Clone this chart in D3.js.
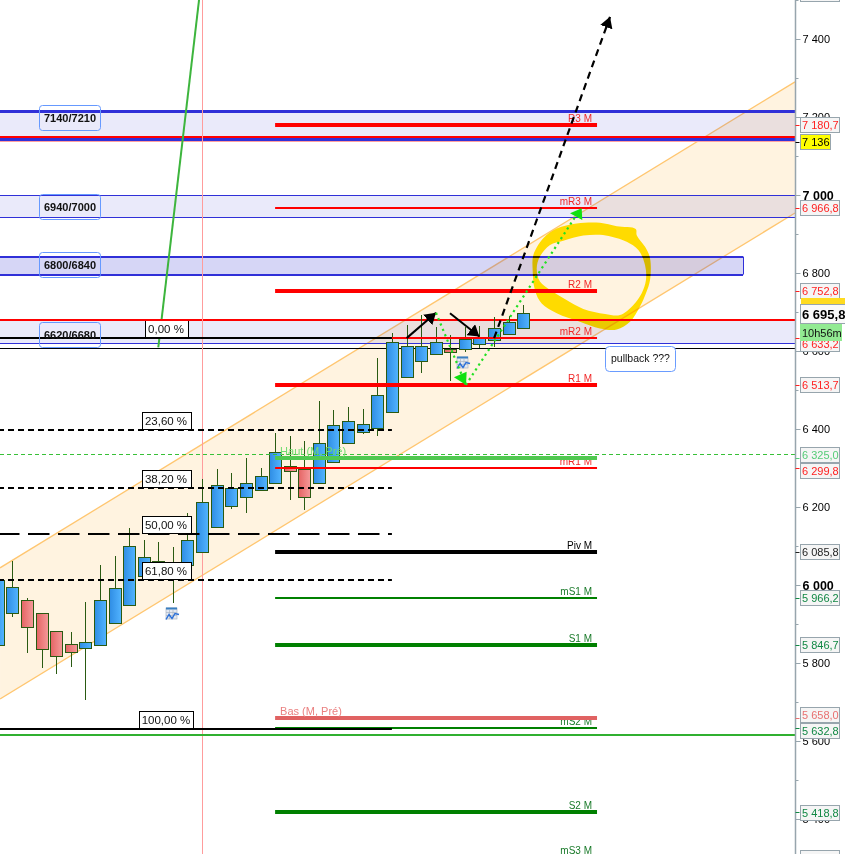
<!DOCTYPE html>
<html>
<head>
<meta charset="utf-8">
<script src="https://cdn.jsdelivr.net/npm/d3@7/dist/d3.min.js"></script>
<style>
  html, body { margin: 0; padding: 0; background: #fff; overflow: hidden; }
  svg { display: block; font-family: "Liberation Sans", Arial, sans-serif; }
</style>
</head>
<body>
<script>
// candles, first one is cut by the left edge
var firstBar = -1;
var opens  = [5846,5927,5961,5927,5881,5848,5838,5845,5902,5948,6022,6026,6026,6051,6084,6148,6202,6225,6243,6261,6305,6297,6263,6315,6363,6392,6402,6443,6533,6574,6592,6606,6604,6617,6627,6643,6658];
var closes = [6013,5994,5892,5835,5817,5827,5853,5961,5992,6099,6071,6061,6038,6115,6212,6256,6248,6261,6279,6340,6293,6226,6365,6409,6420,6412,6486,6622,6612,6612,6622,6599,6630,6635,6658,6674,6697];
var highs  = [6013,6062,5967,5927,5881,5879,5956,6051,6074,6145,6115,6109,6097,6184,6272,6297,6286,6325,6299,6389,6382,6369,6472,6449,6456,6451,6581,6645,6667,6692,6661,6640,6661,6663,6686,6689,6718];
var lows   = [5846,5919,5826,5788,5773,5791,5706,5845,5902,5948,6022,6026,5955,6051,6084,6148,6195,6185,6243,6261,6218,6192,6263,6315,6363,6388,6383,6443,6533,6543,6592,6524,6597,6607,6609,6643,6658];

// channel
var channelBars = [-0.84, 53.61];
var channelUpper = [6044, 7290];
var channelLower = [5708, 6954];

// zones
var zoneLabels = ['7140/7210', '6940/7000', '6800/6840', '6620/6680'];
var zoneTops = [7214, 6999, 6842, 6679.5];
var zoneBottoms = [7143, 6943, 6796, 6620];
var zoneEnds = [53.61, 53.61, 50.05, 53.61];
var zoneLineWidths = [3, 1, 2, 1];
var zoneOpacity = [0.1, 0.1, 0.2, 0.1];
var zoneLabelPrices = [7197, 6970.5, 6821, 6641.5];

// monthly pivots
var pivotNames = ['R3 M', 'mR3 M', 'R2 M', 'mR2 M', 'R1 M', 'mR1 M', 'Piv M', 'mS1 M', 'S1 M', 'mS2 M', 'S2 M', 'mS3 M'];
var pivotValues = [7180.7, 6966.8, 6752.8, 6633.2, 6513.7, 6299.8, 6085.8, 5966.2, 5846.7, 5632.8, 5418.8, 5303];
var pivotColors = ['#ff0000', '#ff0000', '#ff0000', '#ff0000', '#ff0000', '#ff0000', '#000000', '#008000', '#008000', '#008000', '#008000', '#008000'];
var pivotWidths = [4, 2, 4, 2, 4, 2, 4, 2, 4, 2, 4, 2];

// fibonacci
var fibLabels = ['0,00 %', '23,60 %', '38,20 %', '50,00 %', '61,80 %', '100,00 %'];
var fibValues = [6633, 6397, 6249, 6131, 6013, 5631];
var fibDash = [null, '6,4', '6,4', '21.5,8.5', '6,4', null];

// axis
var axisMajor = [7400, 7200, 7000, 6800, 6600, 6400, 6200, 6000, 5800, 5600, 5400];
var axisMinor = [7500, 7300, 7100, 6900, 6700, 6500, 6300, 6100, 5900, 5700, 5500, 5300];
var axisBold = [7000, 6000];

// price boxes on the axis
var boxValues = [7515, 7180.7, 7136, 6966.8, 6752.8, 6633.2, 6513.7, 6325, 6299.8, 6085.8, 5966.2, 5846.7, 5658, 5632.8, 5418.8, 5300];
var boxColors = ['#ff2020', '#ff2020', '#000000', '#ff2020', '#ff2020', '#ff2020', '#ff2020', '#55cc77', '#ff2020', '#222222', '#118844', '#118844', '#e87070', '#118844', '#118844', '#118844'];
var boxNudge = [0, 0, 0, 0, 0, 6, 0, -3, 3, 0, 0, 0, -3, 3, 1, 0];
var currentPrice = 6695.8;
var countdown = '10h56m';

// drawn by hand on the chart
var haut = 6325, bas = 5658, hautDashed = 6335, lowGreen = 5616, pinkLevel = 7136;
var redTop = 6679.5, redMid = 7148, blackThin = 6607;
var steepBars = [10, 12.79], steepPrices = [6609, 7500];
var nowBar = 13;
var blackArrows = [[[27.01, 6633], [29.02, 6698]], [[29.98, 6697], [31.99, 6637]]];
var bigArrow = [[33, 6633], [40.94, 7457]];
var dotted = [[[29.02, 6698], [31.07, 6513]], [[31.07, 6513], [38.54, 6943]]];
var greenHeads = [
  [[30.25, 6533], [31.12, 6547], [31.08, 6513]],
  [[38.2, 6953], [39, 6966], [39.04, 6936]]
];
var ringOuter = [[42.70, 6913], [42.77, 6897], [43.34, 6867], [43.68, 6838], [43.68, 6782], [43.40, 6748], [42.99, 6714], [42.31, 6675], [41.40, 6655], [40.25, 6658], [38.88, 6675], [37.29, 6697], [36.26, 6722], [35.80, 6756], [35.64, 6808], [35.69, 6846], [36.37, 6889], [37.29, 6914], [38.66, 6927], [40.25, 6929], [41.40, 6920]];
var ringInner = [[41.05, 6893], [42.08, 6880], [42.88, 6859], [43.34, 6820], [43.40, 6782], [43.11, 6748], [42.54, 6718], [41.62, 6692], [40.60, 6695], [39.11, 6708], [37.9, 6732], [36.9, 6755], [36.14, 6778], [35.92, 6812], [36.14, 6842], [36.83, 6872], [37.74, 6883], [39.11, 6896], [40.25, 6898]];
var newsIcons = [[10.94, 5926], [30.9, 6569]];
var noteText = 'pullback ???';
var noteAt = [40.63, 6582];

var width = 845, height = 854, axisX = 795.5;

var x = d3.scaleLinear().domain([0, 35]).range([12.3, 523.3]);
var y = d3.scaleLinear().domain([6000, 7400]).range([585, 39]);

var crisp = function(v) { return Math.round(v) + 0.5; };
// odd widths sit on half pixels, even widths on whole ones
var snap = function(v, w) { return w % 2 ? Math.floor(v) + 0.5 : Math.round(v); };
var fmt = function(v) { return String(v).replace(/(\d)(\d{3})/, '$1 $2'); };
var fmt1 = function(v) { return fmt(v.toFixed(1)).replace('.', ','); };

var svg = d3.select('body').append('svg').attr('width', width).attr('height', height);

var hline = function(v, x1, x2, color, w) {
  return svg.append('line').attr('x1', x1).attr('x2', x2)
    .attr('y1', snap(y(v), w)).attr('y2', snap(y(v), w))
    .attr('stroke', color).attr('stroke-width', w);
};

var defs = svg.append('defs');
var gradient = function(id, a, b) {
  var g = defs.append('linearGradient').attr('id', id);
  g.append('stop').attr('offset', '0%').attr('stop-color', a);
  g.append('stop').attr('offset', '100%').attr('stop-color', b);
};
gradient('up', '#2f8de4', '#52b4ff');
gradient('down', '#e56464', '#f59a9a');

var marker = function(id, len, wide) {
  defs.append('marker').attr('id', id).attr('markerUnits', 'userSpaceOnUse')
    .attr('markerWidth', len).attr('markerHeight', wide)
    .attr('refX', len).attr('refY', wide / 2).attr('orient', 'auto')
    .append('path').attr('d', 'M0,0L' + len + ',' + wide / 2 + 'L0,' + wide + 'Z').attr('fill', '#000');
};
marker('headBig', 11, 13);
marker('headSmall', 11, 14);

// channel
var channel = d3.area()
  .x(function(d) { return x(d[0]); })
  .y0(function(d) { return y(d[1]); })
  .y1(function(d) { return y(d[2]); });
var channelRows = channelBars.map(function(b, i) { return [b, channelUpper[i], channelLower[i]]; });
svg.append('path').attr('d', channel(channelRows)).attr('fill', '#fff3e0');
[channelUpper, channelLower].forEach(function(s) {
  svg.append('line')
    .attr('x1', x(channelBars[0])).attr('y1', y(s[0]))
    .attr('x2', x(channelBars[1])).attr('y2', y(s[1]))
    .attr('stroke', '#ffc670').attr('stroke-width', 1.3);
});

// zones
zoneLabels.forEach(function(label, i) {
  var xEnd = x(zoneEnds[i]);
  svg.append('rect')
    .attr('x', 0).attr('width', xEnd)
    .attr('y', y(zoneTops[i])).attr('height', y(zoneBottoms[i]) - y(zoneTops[i]))
    .attr('fill', '#3232d0').attr('fill-opacity', zoneOpacity[i]);
  [zoneTops[i], zoneBottoms[i]].forEach(function(v, k) {
    if (i === 3 && k === 0) return;
    hline(v, 0, xEnd, '#3030d8', zoneLineWidths[i]);
  });
  if (i === 2) {
    svg.append('line').attr('x1', crisp(xEnd)).attr('x2', crisp(xEnd))
      .attr('y1', y(zoneTops[i])).attr('y2', y(zoneBottoms[i]))
      .attr('stroke', '#3030d8').attr('stroke-width', 1);
  }
});

hline(pinkLevel, 0, axisX, '#ffa0a0', 1);
hline(redMid, 0, axisX, '#ff0000', 2);
hline(redTop, 0, axisX, '#ff0000', 2);
hline(blackThin, 0, axisX, '#000', 1);

// yellow ring
var ringLine = d3.line().x(function(d) { return x(d[0]); }).y(function(d) { return y(d[1]); }).curve(d3.curveCatmullRomClosed);
svg.append('path')
  .attr('d', ringLine(ringOuter) + ringLine(ringInner))
  .attr('fill', '#ffe600').attr('fill-rule', 'evenodd')
  .style('mix-blend-mode', 'multiply');

// now line
svg.append('line').attr('x1', crisp(x(nowBar))).attr('x2', crisp(x(nowBar))).attr('y1', 0).attr('y2', height)
  .attr('stroke', '#ff9c9c').attr('stroke-width', 1);

// candles
var bars = d3.range(opens.length);
var candle = svg.append('g').selectAll('g').data(bars).enter().append('g');
candle.append('line')
  .attr('x1', function(i) { return crisp(x(i + firstBar)); })
  .attr('x2', function(i) { return crisp(x(i + firstBar)); })
  .attr('y1', function(i) { return Math.round(y(highs[i])); })
  .attr('y2', function(i) { return Math.round(y(lows[i])); })
  .attr('stroke', '#2a5a12').attr('stroke-width', 1);
candle.append('rect')
  .attr('x', function(i) { return crisp(x(i + firstBar)) - 6; })
  .attr('width', 12)
  .attr('y', function(i) { return crisp(y(Math.max(opens[i], closes[i]))); })
  .attr('height', function(i) { return Math.max(2, Math.round(Math.abs(y(opens[i]) - y(closes[i])))); })
  .attr('fill', function(i) { return closes[i] >= opens[i] ? 'url(#up)' : 'url(#down)'; })
  .attr('stroke', '#2a5a12').attr('stroke-width', 1);

// calendar icons
newsIcons.forEach(function(n) {
  var g = svg.append('g').attr('transform', 'translate(' + Math.round(x(n[0])) + ',' + Math.round(y(n[1])) + ')');
  g.append('rect').attr('x', -6).attr('y', -6).attr('width', 11).attr('height', 11).attr('fill', '#e4e9f1').attr('stroke', '#aab6c4').attr('stroke-width', 0.7);
  g.append('path').attr('d', 'M-6,-1.5H5M-6,1.5H5M-2.5,-4V5M1,-4V5').attr('stroke', '#aab6c4').attr('stroke-width', 0.7);
  g.append('rect').attr('x', -6).attr('y', -6.5).attr('width', 11).attr('height', 2).attr('fill', '#3a7fc0');
  g.append('path').attr('d', 'M-6,5.5L-3,0.5L0,4.5L3,-0.5L7,0.5').attr('fill', 'none').attr('stroke', '#2a6fd8').attr('stroke-width', 1.4);
});

// steep green line and low green line
svg.append('line')
  .attr('x1', x(steepBars[0])).attr('y1', y(steepPrices[0]))
  .attr('x2', x(steepBars[1])).attr('y2', y(steepPrices[1]))
  .attr('stroke', '#3db53d').attr('stroke-width', 2);
hline(lowGreen, 0, axisX, '#30b030', 2);
hline(hautDashed, 0, axisX, '#38c038', 1).attr('stroke-dasharray', '4,3');

// pivots
var pivotStart = 18, pivotEnd = 40.05;
pivotNames.forEach(function(name, i) {
  var py = Math.round(y(pivotValues[i]));
  hline(pivotValues[i], x(pivotStart), x(pivotEnd), pivotColors[i], pivotWidths[i]);
  svg.append('text').attr('x', x(pivotEnd) - 5).attr('y', py - 3)
    .attr('text-anchor', 'end').attr('font-size', 10)
    .attr('fill', pivotColors[i] === '#ff0000' ? '#f02828' : pivotColors[i] === '#008000' ? '#1a7a2a' : '#000')
    .text(name);
});
[[haut, '#50c850', '#70dc70', 'Haut (M, Pré)'], [bas, '#e06262', '#ea8080', 'Bas (M, Pré)']].forEach(function(l) {
  var ly = Math.round(y(l[0]));
  hline(l[0], x(pivotStart), x(pivotEnd), l[1], 4);
  svg.append('text').attr('x', x(pivotStart) + 5).attr('y', ly - 3)
    .attr('font-size', 11).attr('fill', l[2]).text(l[3]);
});

// fibonacci lines and labels
var fibEnd = 26;
fibLabels.forEach(function(label, i) {
  var fy = Math.round(y(fibValues[i]));
  hline(fibValues[i], -2, x(fibEnd), '#000', 2).attr('stroke-dasharray', fibDash[i]);
  var w = i === 5 ? 54 : i === 0 ? 43 : 49;
  var cx = 166;
  var g = svg.append('g');
  g.append('rect').attr('x', crisp(cx - w / 2)).attr('y', fy - 17.5).attr('width', w).attr('height', 17)
    .attr('fill', '#fff').attr('stroke', '#000').attr('stroke-width', 1);
  g.append('text').attr('x', cx).attr('y', fy - 5).attr('text-anchor', 'middle')
    .attr('font-size', 11.5).attr('fill', '#111').text(label);
});
hline(redTop, 140, 195, '#ff0000', 2);

// zone labels go above the fib lines
zoneLabels.forEach(function(label, i) {
  var cy = y(zoneLabelPrices[i]);
  svg.append('rect').attr('x', 39.5).attr('y', crisp(cy - 13)).attr('width', 61).attr('height', 25).attr('rx', 3)
    .attr('fill', 'none').attr('stroke', '#6699ff').attr('stroke-width', 1);
  svg.append('text').attr('x', 70).attr('y', cy + 4).attr('text-anchor', 'middle')
    .attr('font-size', 11).attr('font-weight', 'bold').attr('fill', '#111').text(label);
});

// hand drawn arrows
blackArrows.forEach(function(a) {
  svg.append('line').attr('x1', x(a[0][0])).attr('y1', y(a[0][1])).attr('x2', x(a[1][0])).attr('y2', y(a[1][1]))
    .attr('stroke', '#000').attr('stroke-width', 2).attr('marker-end', 'url(#headSmall)');
});
svg.append('line').attr('x1', x(bigArrow[0][0])).attr('y1', y(bigArrow[0][1])).attr('x2', x(bigArrow[1][0])).attr('y2', y(bigArrow[1][1]))
  .attr('stroke', '#000').attr('stroke-width', 2.2).attr('stroke-dasharray', '7,5').attr('marker-end', 'url(#headBig)');
dotted.forEach(function(a) {
  svg.append('line').attr('x1', x(a[0][0])).attr('y1', y(a[0][1])).attr('x2', x(a[1][0])).attr('y2', y(a[1][1]))
    .attr('stroke', '#22e022').attr('stroke-width', 2.2).attr('stroke-dasharray', '2.2,3.6');
});
svg.selectAll('polygon.head').data(greenHeads).enter().append('polygon').attr('class', 'head')
  .attr('points', function(p) { return p.map(function(d) { return x(d[0]) + ',' + y(d[1]); }).join(' '); })
  .attr('fill', '#10e010');

// note
svg.append('rect').attr('x', crisp(x(noteAt[0]))).attr('y', crisp(y(noteAt[1]) - 12.5)).attr('width', 70).attr('height', 25).attr('rx', 4)
  .attr('fill', '#fff').attr('stroke', '#6a9cff');
svg.append('text').attr('x', x(noteAt[0]) + 35).attr('y', y(noteAt[1]) + 4).attr('text-anchor', 'middle')
  .attr('font-size', 10.5).attr('fill', '#111').text(noteText);

// right axis
svg.append('rect').attr('x', axisX).attr('y', 0).attr('width', width - axisX).attr('height', height).attr('fill', '#fff');
var axisG = svg.append('g').attr('transform', 'translate(' + axisX + ',0)')
  .call(d3.axisRight(y).tickValues(axisMajor).tickSize(5).tickPadding(2).tickFormat(fmt));
axisG.select('.domain').attr('stroke', '#97a5ad').attr('stroke-width', 1.5).attr('d', 'M0,0V' + height);
axisG.selectAll('.tick line').attr('stroke', '#97a5ad');
axisG.selectAll('.tick text')
  .attr('fill', '#000').attr('font-family', 'Liberation Sans')
  .attr('font-size', function(d) { return axisBold.indexOf(d) >= 0 ? 12.5 : 11; })
  .attr('font-weight', function(d) { return axisBold.indexOf(d) >= 0 ? 'bold' : 'normal'; });
svg.append('g').attr('transform', 'translate(' + axisX + ',0)')
  .call(d3.axisRight(y).tickValues(axisMinor).tickSize(3).tickFormat(''))
  .call(function(g) {
    g.select('.domain').remove();
    g.selectAll('.tick line').attr('stroke', '#97a5ad');
  });

// price boxes, the two that leave the picture only show their frame
boxValues.forEach(function(v, i) {
  var py = y(v), c = Math.round(py + boxNudge[i]);
  var isSpot = v === 7136;
  svg.append('line').attr('x1', axisX).attr('x2', axisX + 4).attr('y1', crisp(py)).attr('y2', crisp(py))
    .attr('stroke', boxColors[i]);
  svg.append('rect').attr('x', 800.5).attr('y', c - 7.5).attr('width', isSpot ? 30 : 39).attr('height', 15)
    .attr('fill', isSpot ? '#ffff00' : '#f5f5f5').attr('stroke', '#97a5ad');
  if (c < 8 || c > height - 8) return;
  svg.append('text').attr('x', 802).attr('y', c + 4).attr('font-size', 11)
    .attr('fill', boxColors[i]).text(isSpot ? fmt(v) : fmt1(v));
});

// current price and countdown
var cpY = Math.round(y(currentPrice));
svg.append('rect').attr('x', 801).attr('y', cpY - 16).attr('width', 44).attr('height', 7).attr('fill', '#ffdb1f');
svg.append('rect').attr('x', 800.5).attr('y', cpY - 9.5).attr('width', 50).attr('height', 19)
  .attr('fill', '#fafafa').attr('stroke', '#97a5ad');
svg.append('text').attr('x', 802).attr('y', cpY + 5).attr('font-size', 13).attr('font-weight', 'bold')
  .attr('fill', '#000').text(fmt1(currentPrice));
svg.append('rect').attr('x', 800).attr('y', cpY + 10).attr('width', 42).attr('height', 17).attr('fill', '#92ea92');
svg.append('text').attr('x', 802).attr('y', cpY + 23).attr('font-size', 11).attr('fill', '#111').text(countdown);
</script>
</body>
</html>
